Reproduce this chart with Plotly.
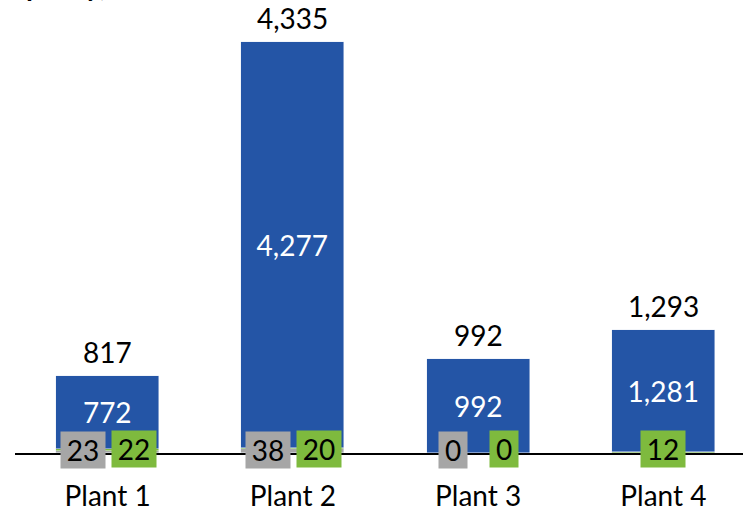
import plotly.graph_objects as go

plants = ["Plant 1", "Plant 2", "Plant 3", "Plant 4"]
main_vals = [772, 4277, 992, 1281]
gray_vals = [23, 38, 0, 0]
green_vals = [22, 20, 0, 12]
show_gray = [True, True, True, False]
totals = [817, 4335, 992, 1293]

BLUE = "#2455A6"
GRAY = "#A6A6A6"
GREEN = "#7EBA3E"
FONT = "Lato, 'Open Sans', sans-serif"
FS = 28

idx = list(range(len(plants)))

fig = go.Figure()
fig.add_trace(go.Bar(x=idx, y=gray_vals, marker_color=GRAY, width=0.555,
                     hoverinfo="skip"))
fig.add_trace(go.Bar(x=idx, y=green_vals, marker_color=GREEN, width=0.555,
                     hoverinfo="skip"))
fig.add_trace(go.Bar(
    x=idx, y=main_vals, marker_color=BLUE, width=0.555,
    text=[f"{v:,}" for v in main_vals], textposition="inside",
    insidetextanchor="middle", textangle=0,
    textfont=dict(color="white", size=FS, family=FONT),
))

# totals above each bar
for i in idx:
    fig.add_annotation(x=i, y=totals[i], yanchor="bottom", yshift=5,
                       text=f"{totals[i]:,}", showarrow=False,
                       font=dict(size=FS, color="black", family=FONT))


def box_w(v):
    return 26 if len(str(v)) == 1 else 42


# small segment labels with coloured boxes sitting on the baseline
for i in idx:
    if show_gray[i]:
        fig.add_annotation(x=i - 0.135, y=0, yshift=3, text=str(gray_vals[i]),
                           showarrow=False, bgcolor=GRAY, borderpad=1,
                           width=box_w(gray_vals[i]), height=34,
                           font=dict(size=FS, color="black", family=FONT))
    fig.add_annotation(x=i + 0.142 if show_gray[i] else i, y=0, yshift=4,
                       text=str(green_vals[i]),
                       showarrow=False, bgcolor=GREEN, borderpad=1,
                       width=box_w(green_vals[i]), height=34,
                       font=dict(size=FS, color="black", family=FONT))

# cut-off title fragment at the top-left
fig.add_annotation(xref="paper", yref="paper", x=(110 - 15) / 728, y=1,
                   xanchor="right", yanchor="bottom", yshift=-4,
                   text="<b><i>(capacity)</i></b>", showarrow=False,
                   font=dict(size=FS, color="black", family=FONT))

fig.update_layout(
    barmode="stack", showlegend=False, bargap=0,
    width=743, height=511,
    margin=dict(l=15, r=0, t=0, b=58),
    plot_bgcolor="white", paper_bgcolor="white",
    font=dict(family=FONT, size=FS, color="black"),
)
fig.update_xaxes(tickvals=idx, ticktext=plants, range=[-0.5, 3.43],
                 showline=True, linecolor="black", linewidth=2,
                 showgrid=False, zeroline=False, ticks="", automargin=False,
                 ticklabelstandoff=17, tickfont=dict(size=FS))
fig.update_yaxes(range=[0, 4778], visible=False)

fig.write_html("out.html", config={"displayModeBar": False},
               post_script="document.body.style.margin='0';")
